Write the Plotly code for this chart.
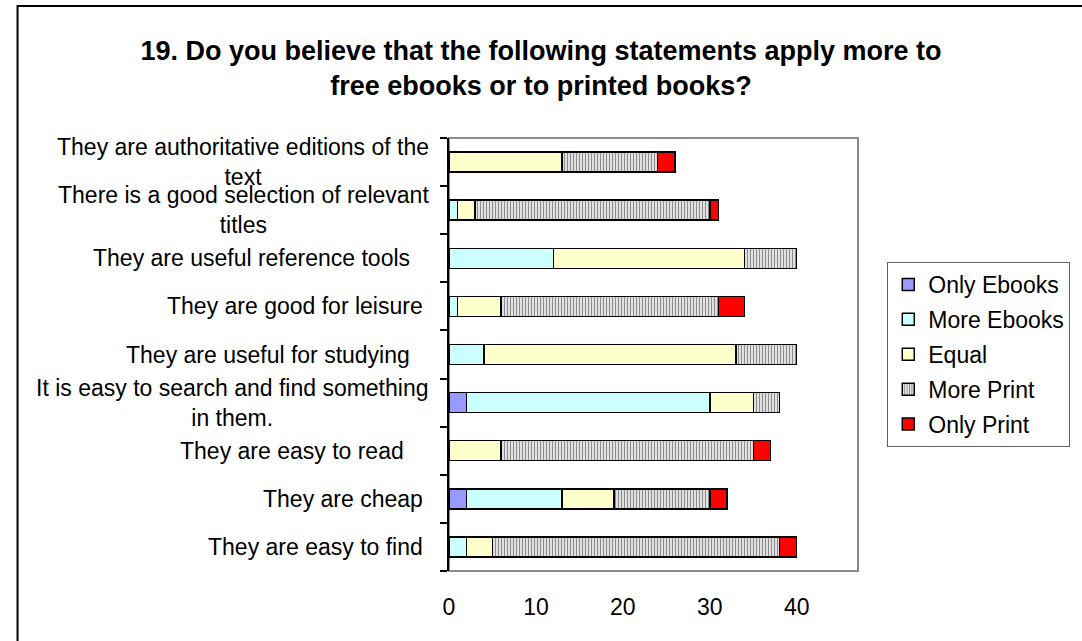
import plotly.graph_objects as go

# Statements, listed bottom to top as they appear on the category axis
statements = [
    "They are easy to find",
    "They are cheap",
    "They are easy to read",
    "It is easy to search and find something<br>in them.",
    "They are useful for studying",
    "They are good for leisure",
    "They are useful reference tools",
    "There is a good selection of relevant<br>titles",
    "They are authoritative editions of the<br>text",
]
# trailing spaces carried by some labels in the source sheet
label_pad = [1, 1, 4, 0, 3, 1, 3, 0, 0]

only_ebooks = [0, 2, 0, 2, 0, 0, 0, 0, 0]
more_ebooks = [2, 11, 0, 28, 4, 1, 12, 1, 0]
equal = [3, 6, 6, 5, 29, 5, 22, 2, 13]
more_print = [33, 11, 29, 3, 7, 25, 6, 27, 11]
only_print = [2, 2, 2, 0, 0, 3, 0, 1, 2]

x_ticks = [0, 10, 20, 30, 40]

FONT = "Liberation Sans, Arial, sans-serif"
OUTLINE = dict(color="black", width=1.5)

series = [
    ("Only Ebooks", only_ebooks, dict(color="#9999FF")),
    ("More Ebooks", more_ebooks, dict(color="#CCFFFF")),
    ("Equal", equal, dict(color="#FFFFCC")),
    ("More Print", more_print, dict(color="#F2F2F2",
                                    pattern=dict(shape="|", size=3, solidity=0.45,
                                                 fgcolor="#8C8C8C", bgcolor="#F2F2F2",
                                                 fillmode="replace"))),
    ("Only Print", only_print, dict(color="#FF0000")),
]

fig = go.Figure()
for name, vals, mk in series:
    fig.add_trace(go.Bar(
        name=name, y=statements, x=vals, orientation="h",
        marker=dict(line=OUTLINE, **mk), legendgroup=name,
    ))

# plot area geometry (pixels)
W, H = 1082, 641
L, R, T, B = 449, 868, 138, 571
pw, ph = R - L, B - T

def px_x(p):
    return (p - L) / pw

def px_y(p):
    return (B - p) / ph

annotations = []
for lab, pad in zip(statements, label_pad):
    annotations.append(dict(
        text=lab + "\u00a0" * pad, x=px_x(431), xref="paper", y=lab, yref="y",
        xanchor="right", yanchor="middle", align="center", showarrow=False,
        font=dict(family=FONT, size=23, color="black"),
    ))

fig.update_layout(
    width=W, height=H,
    margin=dict(l=L, r=W - R, t=T, b=H - B, pad=0),
    paper_bgcolor="white", plot_bgcolor="white",
    barmode="stack", bargap=0.585,
    font=dict(family=FONT, size=23, color="black"),
    title=dict(
        text="<b>19. Do you believe that the following statements apply more to<br>free ebooks or to printed books?</b>",
        x=0.5, xref="container", xanchor="center",
        y=1 - 60 / H, yref="container", yanchor="top",
        font=dict(family=FONT, size=27, color="black"),
    ),
    xaxis=dict(
        range=[0, 47.05], tickvals=x_ticks, showgrid=False, zeroline=False,
        showline=False, ticks="", ticklabelstandoff=20,
        tickfont=dict(family=FONT, size=23, color="black"),
    ),
    yaxis=dict(
        type="category", categoryorder="array", categoryarray=statements,
        range=[-0.5, len(statements) - 0.5],
        showticklabels=False, showgrid=False, zeroline=False,
        showline=True, linecolor="black", linewidth=1.5,
        ticks="outside", tickson="boundaries", ticklen=7,
        tickcolor="black", tickwidth=1.5,
    ),
    legend=dict(
        x=px_x(898), y=px_y(262), xanchor="left", yanchor="top",
        traceorder="grouped", tracegroupgap=2,
        bordercolor="#606060", borderwidth=1, bgcolor="white",
        font=dict(family=FONT, size=23, color="black"),
    ),
    annotations=annotations,
    shapes=[
        # plot area frame
        dict(type="rect", xref="paper", yref="paper", x0=0, x1=1, y0=0, y1=1,
             line=dict(color="#8C8C8C", width=2), layer="below"),
        # chart area frame
        dict(type="rect", xref="paper", yref="paper",
             x0=px_x(7), x1=px_x(W + 20), y0=px_y(H + 20), y1=px_y(6),
             line=dict(color="black", width=2), layer="below"),
    ],
)

fig.write_html("out.html")
